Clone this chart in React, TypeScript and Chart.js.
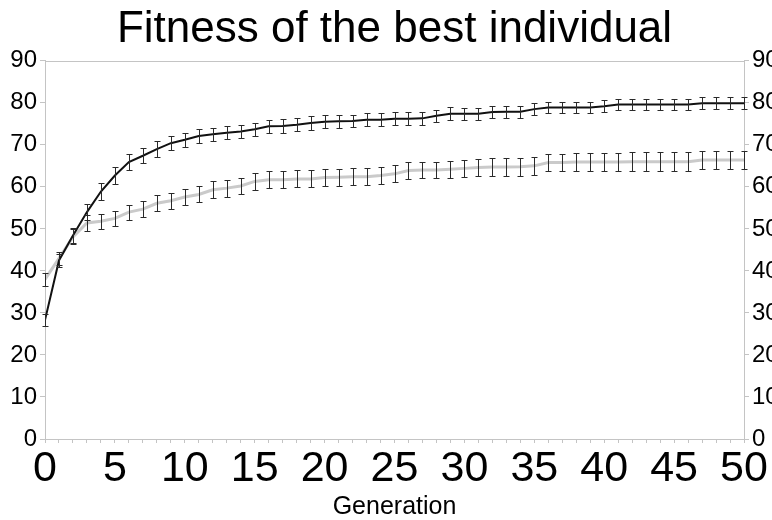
import { useEffect, useRef } from "react";
import { Chart, registerables } from "chart.js";

Chart.register(...registerables);

const generations = [
  0, 1, 2, 3, 4, 5, 6, 7, 8, 9, 10, 11, 12, 13, 14, 15, 16, 17, 18, 19, 20, 21, 22, 23, 24, 25,
  26, 27, 28, 29, 30, 31, 32, 33, 34, 35, 36, 37, 38, 39, 40, 41, 42, 43, 44, 45, 46, 47, 48, 49, 50,
];

const blackValues = [
  28.3, 42.5, 48.4, 54.0, 58.9, 62.7, 65.9, 67.4, 69.0, 70.4,
  71.2, 72.1, 72.5, 72.9, 73.2, 73.7, 74.4, 74.5, 74.8, 75.2,
  75.5, 75.6, 75.7, 76.0, 76.0, 76.2, 76.2, 76.3, 76.9, 77.4,
  77.4, 77.4, 77.8, 77.9, 77.9, 78.5, 78.9, 78.9, 78.9, 78.9,
  79.2, 79.6, 79.6, 79.6, 79.6, 79.6, 79.6, 79.9, 79.9, 79.9, 79.9,
];
const blackErrors = [
  1.5, 1.5, 1.8, 2.0, 2.0, 2.0, 1.9, 1.8, 1.8, 1.7,
  1.7, 1.6, 1.6, 1.6, 1.6, 1.6, 1.6, 1.6, 1.6, 1.6,
  1.6, 1.6, 1.5, 1.5, 1.5, 1.5, 1.5, 1.5, 1.5, 1.5,
  1.4, 1.4, 1.4, 1.4, 1.4, 1.4, 1.4, 1.4, 1.4, 1.4,
  1.4, 1.4, 1.4, 1.4, 1.4, 1.4, 1.4, 1.4, 1.4, 1.4, 1.4,
];

const grayValues = [
  38.0, 43.0, 48.1, 51.4, 51.8, 52.5, 54.0, 54.7, 56.1, 56.7,
  57.6, 58.2, 59.3, 59.7, 60.2, 61.3, 61.7, 61.7, 61.9, 61.9,
  62.2, 62.3, 62.4, 62.4, 62.7, 63.1, 63.9, 64.0, 64.0, 64.2,
  64.4, 64.6, 64.7, 64.7, 64.8, 65.0, 65.8, 65.8, 65.9, 65.9,
  65.9, 65.9, 66.0, 66.0, 66.0, 66.0, 66.0, 66.4, 66.4, 66.4, 66.4,
];
const grayErrors = [
  1.5, 1.5, 1.8, 1.8, 1.8, 1.8, 1.8, 1.9, 1.9, 1.9,
  1.9, 1.9, 2.0, 2.0, 2.0, 2.0, 2.0, 2.0, 2.0, 2.0,
  2.0, 2.0, 2.0, 2.0, 2.0, 2.0, 2.0, 2.0, 2.0, 2.0,
  2.1, 2.1, 2.1, 2.1, 2.1, 2.1, 2.1, 2.1, 2.1, 2.1,
  2.2, 2.2, 2.2, 2.2, 2.2, 2.2, 2.2, 2.2, 2.2, 2.2, 2.2,
];

const yTicks = [0, 10, 20, 30, 40, 50, 60, 70, 80, 90];
const xLabelStep = 5;

const FONT = "'Liberation Sans', Arial, sans-serif";
const AXIS_GRAY = "#c4c4c4";

const frameBorder = {
  id: "frameBorder",
  beforeDatasetsDraw(chart: any) {
    const { ctx, chartArea } = chart;
    ctx.save();
    ctx.strokeStyle = AXIS_GRAY;
    ctx.lineWidth = 1;
    ctx.strokeRect(
      Math.round(chartArea.left) + 0.5,
      Math.round(chartArea.top) + 0.5,
      Math.round(chartArea.right - chartArea.left),
      Math.round(chartArea.bottom - chartArea.top)
    );
    ctx.restore();
  },
};

const errorBars = {
  id: "errorBars",
  afterDatasetsDraw(chart: any) {
    const { ctx } = chart;
    const xs = chart.scales.x;
    const ys = chart.scales.y;
    ctx.save();
    ctx.strokeStyle = "#2a2a2a";
    ctx.lineWidth = 1;
    chart.data.datasets.forEach((ds: any) => {
      const errs: number[] = ds.errors;
      ds.data.forEach((pt: any, i: number) => {
        const px = Math.round(xs.getPixelForValue(pt.x)) + 0.5;
        const top = Math.round(ys.getPixelForValue(pt.y + errs[i])) + 0.5;
        const bot = Math.round(ys.getPixelForValue(pt.y - errs[i])) + 0.5;
        ctx.beginPath();
        ctx.moveTo(px, top);
        ctx.lineTo(px, bot);
        ctx.moveTo(px - 3, top);
        ctx.lineTo(px + 3, top);
        ctx.moveTo(px - 3, bot);
        ctx.lineTo(px + 3, bot);
        ctx.stroke();
      });
    });
    ctx.restore();
  },
};

export default function App() {
  const canvasRef = useRef<HTMLCanvasElement | null>(null);

  useEffect(() => {
    if (!canvasRef.current) return;
    Chart.defaults.font.family = FONT;
    const yAxisCommon = {
      type: "linear" as const,
      min: yTicks[0],
      max: yTicks[yTicks.length - 1],
      ticks: {
        stepSize: yTicks[1] - yTicks[0],
        color: "#000",
        font: { size: 24, family: FONT },
        padding: 3,
      },
      grid: { drawOnChartArea: false, tickLength: 5, color: AXIS_GRAY },
      border: { color: AXIS_GRAY },
    };
    const chart = new Chart(canvasRef.current, {
      type: "line",
      data: {
        datasets: [
          {
            label: "best",
            data: generations.map((g, i) => ({ x: g, y: blackValues[i] })),
            errors: blackErrors,
            borderColor: "#111",
            borderWidth: 2,
            pointRadius: 0,
            tension: 0,
            yAxisID: "y",
          } as any,
          {
            label: "average",
            data: generations.map((g, i) => ({ x: g, y: grayValues[i] })),
            errors: grayErrors,
            borderColor: "#cacaca",
            borderWidth: 3,
            pointRadius: 0,
            tension: 0,
            yAxisID: "y",
          } as any,
        ],
      },
      options: {
        animation: false,
        responsive: false,
        devicePixelRatio: 1,
        layout: { padding: 0 },
        plugins: {
          legend: { display: false },
          tooltip: { enabled: false },
          title: {
            display: true,
            text: "Fitness of the best individual",
            color: "#000",
            font: { size: 44, weight: "normal", family: FONT, lineHeight: 1.2 },
            padding: { top: 3, bottom: 5 },
            fullSize: false,
          },
        },
        scales: {
          x: {
            type: "linear",
            position: "bottom",
            min: generations[0],
            max: generations[generations.length - 1],
            ticks: {
              stepSize: 1,
              autoSkip: false,
              maxTicksLimit: 200,
              maxRotation: 0,
              minRotation: 0,
              color: "#000",
              font: { size: 43, family: FONT },
              padding: 0,
              callback: (v: any) => (Number(v) % xLabelStep === 0 ? String(v) : ""),
            },
            grid: { drawOnChartArea: false, tickLength: 4, color: AXIS_GRAY },
            border: { color: AXIS_GRAY },
            title: {
              display: true,
              text: "Generation",
              color: "#000",
              font: { size: 25, family: FONT, lineHeight: 1.0 },
              padding: { top: 0, bottom: 0 },
            },
            afterFit: (s: any) => {
              s.height = 81;
            },
          },
          y: {
            ...yAxisCommon,
            position: "left",
            afterFit: (s: any) => {
              s.width = 45;
            },
          },
          y2: {
            ...yAxisCommon,
            position: "right",
            afterFit: (s: any) => {
              s.width = 28;
            },
          },
        },
      } as any,
      plugins: [frameBorder, errorBars],
    });
    return () => chart.destroy();
  }, []);

  return (
    <div style={{ position: "absolute", left: 0, top: 0, width: 772, height: 520, background: "#fff" }}>
      <canvas ref={canvasRef} width={772} height={520} />
    </div>
  );
}
